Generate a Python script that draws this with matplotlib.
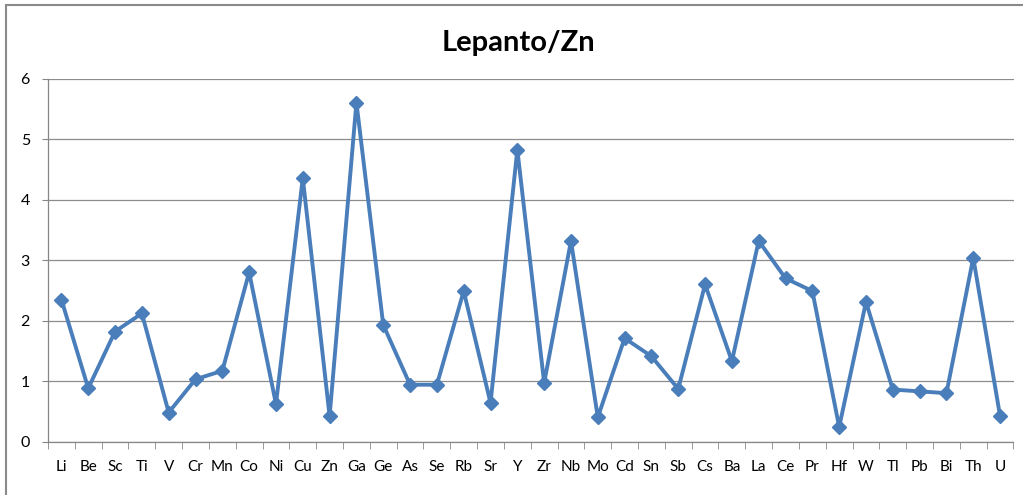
import matplotlib.pyplot as plt
from matplotlib.patches import Rectangle

elements = ['Li', 'Be', 'Sc', 'Ti', 'V', 'Cr', 'Mn', 'Co', 'Ni', 'Cu', 'Zn', 'Ga', 'Ge',
            'As', 'Se', 'Rb', 'Sr', 'Y', 'Zr', 'Nb', 'Mo', 'Cd', 'Sn', 'Sb', 'Cs', 'Ba',
            'La', 'Ce', 'Pr', 'Hf', 'W', 'Tl', 'Pb', 'Bi', 'Th', 'U']
ratio = [2.35, 0.88, 1.82, 2.12, 0.48, 1.03, 1.17, 2.80, 0.62, 4.36, 0.42, 5.61, 1.93,
         0.94, 0.94, 2.49, 0.64, 4.83, 0.97, 3.32, 0.40, 1.71, 1.41, 0.87, 2.60, 1.33,
         3.32, 2.70, 2.49, 0.24, 2.31, 0.86, 0.83, 0.80, 3.04, 0.42]

plt.rcParams['font.family'] = ['Lato', 'DejaVu Sans']

fig = plt.figure(figsize=(10.23, 4.95), dpi=100)
ax = fig.add_axes([48 / 1023, 1 - 441.5 / 495, (1013.5 - 48) / 1023, (441.5 - 79) / 495])

x = list(range(len(elements)))
ax.plot(x, ratio, color='#4a7ebb', lw=2.8, marker='D', ms=7.5, zorder=3)

ax.set_xlim(-0.5, len(elements) - 0.5)
ax.set_ylim(0, 6)
ax.set_yticks(range(7))
ax.set_xticks(x)
ax.set_xticklabels(elements, fontsize=11)
ax.set_xticks([i - 0.5 for i in range(len(elements) + 1)], minor=True)
ax.tick_params(axis='x', which='major', length=0, pad=13)
ax.tick_params(axis='x', which='minor', length=5, color='#868686', direction='out')
ax.tick_params(axis='y', length=4, color='#868686', labelsize=11.5, pad=9)

ax.grid(axis='y', color='#8c8c8c', lw=0.9)
ax.set_axisbelow(True)
for side in ['top', 'right']:
    ax.spines[side].set_visible(False)
for side in ['left', 'bottom']:
    ax.spines[side].set_color('#868686')
    ax.spines[side].set_linewidth(0.9)

fig.text(0.507, 0.913, 'Lepanto/Zn', ha='center', va='center',
         fontsize=21, fontweight='bold')

# chart frame
fig.patches.append(Rectangle((5.5 / 1023, -0.1), 1.2, 1.1 - 5.5 / 495,
                             transform=fig.transFigure, fill=False,
                             edgecolor='#8a8a8a', lw=1.5))

fig.savefig('out.png', dpi=100)
